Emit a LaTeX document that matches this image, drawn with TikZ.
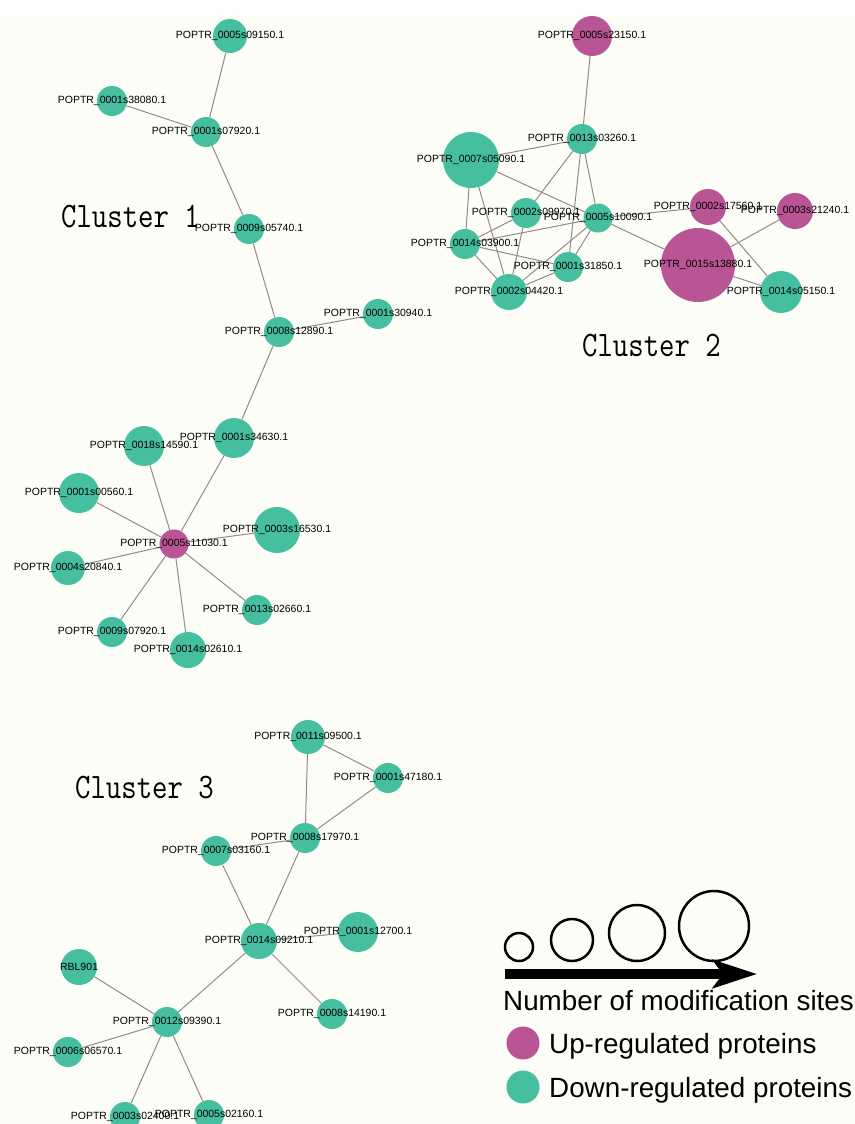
\documentclass[tikz,border=0pt]{standalone}
\usepackage{fontspec}
\setmainfont{Liberation Sans}
\usetikzlibrary{arrows.meta}
\pgfdeclarelayer{background}
\pgfdeclarelayer{fg}
\pgfsetlayers{background,main,fg}
\definecolor{downc}{RGB}{69,191,160}
\definecolor{upc}{RGB}{185,84,149}
\definecolor{edgec}{RGB}{150,136,140}
\definecolor{bgc}{RGB}{252,253,247}
\tikzset{
  prot/.style={circle, inner sep=0pt, draw=none, minimum size=#1bp},
  down/.style={prot=#1, fill=downc},
  up/.style={prot=#1, fill=upc},
  lab/.style={inner sep=0pt, text=black, font=\fontsize{10.5}{12}\selectfont},
  link/.style={draw=edgec, line width=1bp},
  ctitle/.style={inner sep=0pt, anchor=base west, font=\ttfamily\fontsize{30}{30}\selectfont},
  legc/.style={circle, draw=black, line width=2.5bp, inner sep=0pt, minimum size=#1bp},
  legt/.style={inner sep=0pt, anchor=base west, font=\fontsize{27.9}{30}\selectfont},
}
\begin{document}
\begin{tikzpicture}[x=1bp,y=-1bp]
\useasboundingbox (0,0) rectangle (855,1124);

% ---------- Cluster 1 ----------
\node[down=34] (A1) at (230,36) {};
\node[down=30] (A2) at (112,101) {};
\node[down=30] (A3) at (206,132) {};
\node[down=30] (A4) at (249,229) {};
\node[down=30] (A5) at (279,332) {};
\node[down=30] (A6) at (378,314) {};
\node[down=40] (A7) at (234,438) {};
\node[down=40] (A8) at (144,446) {};
\node[down=40] (A9) at (79,493) {};
\node[up=29]   (H1) at (174,544) {};
\node[down=46] (A10) at (277,530) {};
\node[down=34] (A11) at (68,568) {};
\node[down=30] (A12) at (257,610) {};
\node[down=30] (A13) at (112,632) {};
\node[down=36] (A14) at (188,650) {};

% ---------- Cluster 2 ----------
\node[up=40]   (B1) at (592,36) {};
\node[down=30] (B2) at (582,139) {};
\node[down=56] (B3) at (471,160) {};
\node[down=30] (B4) at (526,213) {};
\node[down=29] (B5) at (598,218) {};
\node[down=30] (B6) at (465,244) {};
\node[down=30] (B7) at (568,267) {};
\node[down=36] (B8) at (509,292) {};
\node[up=36]   (B9) at (708,207) {};
\node[up=36]   (B10) at (795,211) {};
\node[up=74]   (B11) at (698,265) {};
\node[down=42] (B12) at (781,292) {};

% ---------- Cluster 3 ----------
\node[down=34] (C1) at (308,737) {};
\node[down=30] (C2) at (388,778) {};
\node[down=30] (C3) at (305,838) {};
\node[down=30] (C4) at (216,851) {};
\node[down=36] (C5) at (259,941) {};
\node[down=40] (C6) at (358,932) {};
\node[down=36] (C7) at (79,967) {};
\node[down=30] (C8) at (332,1014) {};
\node[down=30] (C9) at (167,1022) {};
\node[down=30] (C10) at (68,1052) {};
\node[down=30] (C11) at (125,1117) {};
\node[down=30] (C12) at (209,1115) {};

% ---------- background and edges ----------
\begin{pgfonlayer}{background}
\fill[white] (0,0) rectangle (855,15);
\fill[bgc] (0,15) rectangle (855,1124);
\draw[link] (A1) -- (A3);
\draw[link] (A2) -- (A3);
\draw[link] (A3) -- (A4);
\draw[link] (A4) -- (A5);
\draw[link] (A5) -- (A6);
\draw[link] (A5) -- (A7);
\draw[link] (A7) -- (H1);
\draw[link] (A8) -- (H1);
\draw[link] (A9) -- (H1);
\draw[link] (A10) -- (H1);
\draw[link] (A11) -- (H1);
\draw[link] (A12) -- (H1);
\draw[link] (A13) -- (H1);
\draw[link] (A14) -- (H1);

\draw[link] (B1) -- (B2);
\draw[link] (B2) -- (B3);
\draw[link] (B2) -- (B4);
\draw[link] (B2) -- (B7);
\draw[link] (B2) -- (B5);
\draw[link] (B3) -- (B5);
\draw[link] (B3) -- (B6);
\draw[link] (B3) -- (B8);
\draw[link] (B4) -- (B6);
\draw[link] (B4) -- (B8);
\draw[link] (B5) -- (B6);
\draw[link] (B5) -- (B8);
\draw[link] (B5) -- (B7);
\draw[link] (B5) -- (B9);
\draw[link] (B5) -- (B11);
\draw[link] (B6) -- (B7);
\draw[link] (B6) -- (B8);
\draw[link] (B7) -- (B8);
\draw[link] (B9) -- (B12);
\draw[link] (B10) -- (B11);
\draw[link] (B11) -- (B12);

\draw[link] (C1) -- (C2);
\draw[link] (C1) -- (C3);
\draw[link] (C2) -- (C3);
\draw[link] (C3) -- (C4);
\draw[link] (C3) -- (C5);
\draw[link] (C4) -- (C5);
\draw[link] (C5) -- (C6);
\draw[link] (C5) -- (C8);
\draw[link] (C5) -- (C9);
\draw[link] (C7) -- (C9);
\draw[link] (C9) -- (C10);
\draw[link] (C9) -- (C11);
\draw[link] (C9) -- (C12);
\end{pgfonlayer}

% ---------- labels ----------
\begin{pgfonlayer}{fg}
\node[lab] (lA1) at (A1) {POPTR\_0005s09150.1};
\node[lab] (lA2) at (A2) {POPTR\_0001s38080.1};
\node[lab] (lA3) at (A3) {POPTR\_0001s07920.1};
\node[lab] (lA4) at (A4) {POPTR\_0009s05740.1};
\node[lab] (lA5) at (A5) {POPTR\_0008s12890.1};
\node[lab] (lA6) at (A6) {POPTR\_0001s30940.1};
\node[lab] (lA7) at (A7) {POPTR\_0001s34630.1};
\node[lab] (lA8) at (A8) {POPTR\_0018s14590.1};
\node[lab] (lA9) at (A9) {POPTR\_0001s00560.1};
\node[lab] (lH1) at (H1) {POPTR\_0005s11030.1};
\node[lab] (lA10) at (A10) {POPTR\_0003s16530.1};
\node[lab] (lA11) at (A11) {POPTR\_0004s20840.1};
\node[lab] (lA12) at (A12) {POPTR\_0013s02660.1};
\node[lab] (lA13) at (A13) {POPTR\_0009s07920.1};
\node[lab] (lA14) at (A14) {POPTR\_0014s02610.1};

\node[lab] (lB1) at (B1) {POPTR\_0005s23150.1};
\node[lab] (lB2) at (B2) {POPTR\_0013s03260.1};
\node[lab] (lB3) at (B3) {POPTR\_0007s05090.1};
\node[lab] (lB4) at (B4) {POPTR\_0002s09970.1};
\node[lab] (lB5) at (B5) {POPTR\_0005s10090.1};
\node[lab] (lB6) at (B6) {POPTR\_0014s03900.1};
\node[lab] (lB7) at (B7) {POPTR\_0001s31850.1};
\node[lab] (lB8) at (B8) {POPTR\_0002s04420.1};
\node[lab] (lB9) at (B9) {POPTR\_0002s17560.1};
\node[lab] (lB10) at (B10) {POPTR\_0003s21240.1};
\node[lab] (lB11) at (B11) {POPTR\_0015s13880.1};
\node[lab] (lB12) at (B12) {POPTR\_0014s05150.1};

\node[lab] (lC1) at (C1) {POPTR\_0011s09500.1};
\node[lab] (lC2) at (C2) {POPTR\_0001s47180.1};
\node[lab] (lC3) at (C3) {POPTR\_0008s17970.1};
\node[lab] (lC4) at (C4) {POPTR\_0007s03160.1};
\node[lab] (lC5) at (C5) {POPTR\_0014s09210.1};
\node[lab] (lC6) at (C6) {POPTR\_0001s12700.1};
\node[lab] (lC7) at (C7) {RBL901};
\node[lab] (lC8) at (C8) {POPTR\_0008s14190.1};
\node[lab] (lC9) at (C9) {POPTR\_0012s09390.1};
\node[lab] (lC10) at (C10) {POPTR\_0006s06570.1};
\node[lab] (lC11) at (C11) {POPTR\_0003s02400.1};
\node[lab] (lC12) at (C12) {POPTR\_0005s02160.1};
\end{pgfonlayer}

% ---------- cluster titles ----------
\node[ctitle] (t1) at (61,227) {\scalebox{1}[1.2]{Cluster 1}};
\node[ctitle] (t2) at (582,356) {\scalebox{1}[1.2]{Cluster 2}};
\node[ctitle] (t3) at (75,798) {\scalebox{1}[1.2]{Cluster 3}};

% ---------- legend ----------
\coordinate (arrS) at (505,974);
\coordinate (arrE) at (757,974);
\draw[line width=10bp, -{Stealth[length=44bp, width=28bp, inset=10bp]}] (arrS) -- (arrE);
\node[legc=28] (s1) at (519,947) {};
\node[legc=42] (s2) at (572,940) {};
\node[legc=56] (s3) at (637,933) {};
\node[legc=70] (s4) at (714,926) {};
\node[legt] (lnum) at (503,1010) {Number of modification sites};
\node[up=33] (kup) at (523,1043) {};
\node[legt] (lup) at (549,1053) {Up-regulated proteins};
\node[down=33] (kdown) at (523,1087) {};
\node[legt] (ldown) at (549,1097) {Down-regulated proteins};
\end{tikzpicture}
\end{document}
